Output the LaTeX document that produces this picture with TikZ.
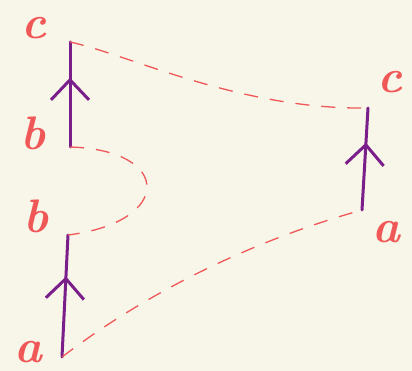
\documentclass[tikz,border=0pt]{standalone}
\usepackage{fontspec}
\usetikzlibrary{arrows.meta,decorations.markings}
\definecolor{papier}{RGB}{248,245,233}
\definecolor{kreide}{RGB}{240,88,88}
\definecolor{lila}{RGB}{122,30,138}

\begin{document}
\begin{tikzpicture}[x=1pt,y=-1pt,
  buchstabe/.style={text=kreide,font=\fontsize{47}{47}\selectfont\bfseries\itshape,inner sep=0pt},
  pfeil/.style={lila,line width=3pt,line cap=round,
    decoration={markings,mark=at position 0.66 with {\arrow{Straight Barb[length=20pt,width=38pt]}}},
    postaction=decorate},
  verbindung/.style={kreide,line width=1.3pt,dash pattern=on 14pt off 12pt}]
% Hintergrund
\fill[papier] (0,0) rectangle (412,371);
% Beschriftungen links
\node[buchstabe] (cl) at (34,28) {c};
\node[buchstabe] (bo) at (33,133) {b};
\node[buchstabe] (bu) at (36,216) {b};
\node[buchstabe] (al) at (28,352) {a};
% Beschriftungen rechts
\node[buchstabe] (cr) at (390,82) {c};
\node[buchstabe] (ar) at (386,232) {a};
% Pfeilenden
\coordinate (lo1) at (70,147);
\coordinate (lo2) at (70,42);
\coordinate (lu1) at (62,357);
\coordinate (lu2) at (68,235);
\coordinate (r1) at (362,210);
\coordinate (r2) at (368,108);
% Pfeile
\draw[pfeil] (lo1) -- (lo2);
\draw[pfeil] (lu1) -- (lu2);
\draw[pfeil] (r1) -- (r2);
% gestrichelte Verbindungen
\draw[verbindung] (lo2) .. controls (130,55) and (240,110) .. (r2);
\draw[verbindung] (lo1) .. controls (173,150) and (173,222) .. (lu2);
\draw[verbindung] (lu1) .. controls (150,290) and (255,240) .. (r1);
\end{tikzpicture}
\end{document}
